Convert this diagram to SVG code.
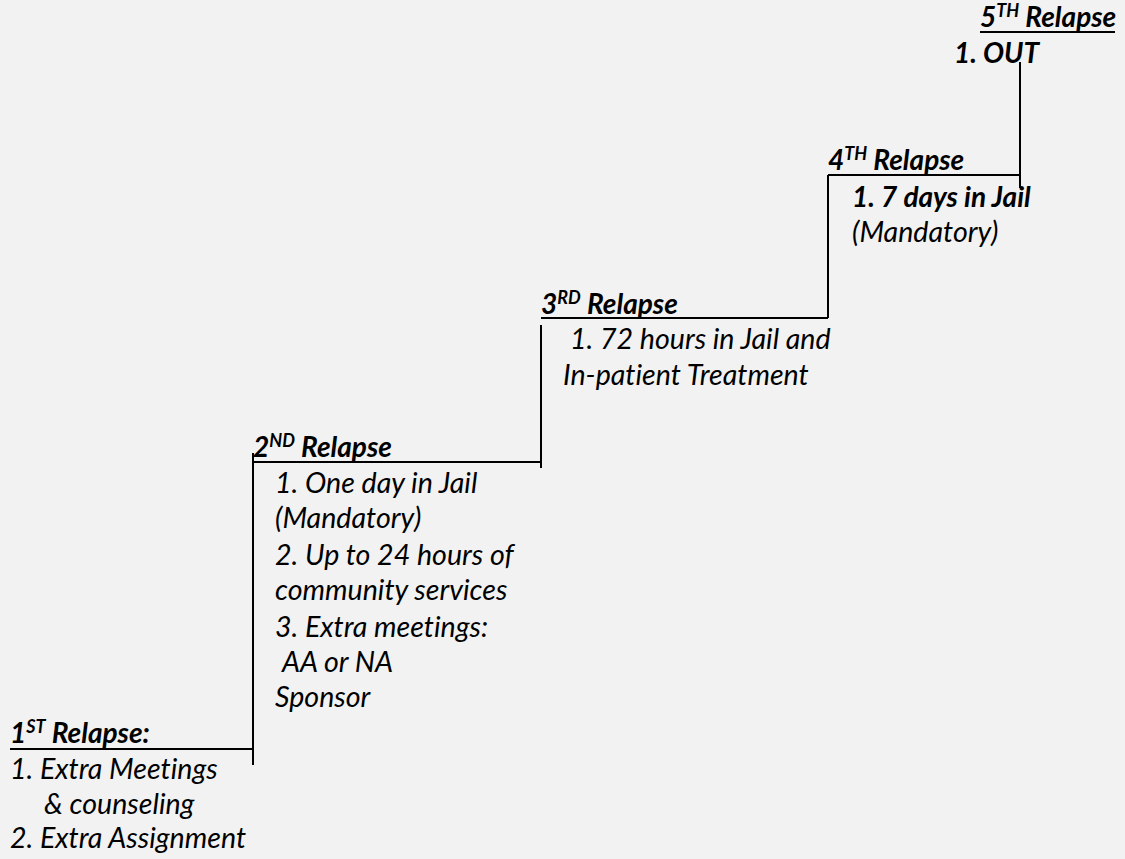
<svg xmlns="http://www.w3.org/2000/svg" width="1125" height="859" viewBox="0 0 1125 859">
<style>
text{font-family:Lato,"Open Sans","Liberation Sans",sans-serif;font-style:italic;font-size:28.6px;fill:#000;font-variant-ligatures:none}
.h,.b{font-weight:bold;font-size:28px}
.sup{font-size:18px}
.ln{stroke:#000;stroke-width:2;fill:none}
</style>
<rect width="1125" height="859" fill="#f2f2f2"/>
<g id="connectors">
<path class="ln" d="M10 749H253M253 453V765"/>
<path class="ln" d="M253 462H541M541 325V468"/>
<path class="ln" d="M541 318H828M828 175V318"/>
<path class="ln" d="M828 175H1020M1020 62V188"/>
<path class="ln" d="M980 32H1115"/>
</g>
<g id="relapse1">
<text class="h" x="10" y="743">1<tspan class="sup" dy="-10">ST</tspan><tspan dy="10"> Relapse:</tspan></text>
<text x="10" y="779">1. Extra Meetings</text>
<text x="44" y="814">&amp; counseling</text>
<text x="10" y="848">2. Extra Assignment</text>
</g>
<g id="relapse2">
<text class="h" x="253" y="457">2<tspan class="sup" dy="-10">ND</tspan><tspan dy="10"> Relapse</tspan></text>
<text x="275" y="493">1. One day in Jail</text>
<text x="275" y="528">(Mandatory)</text>
<text x="275" y="565">2. Up to 24 hours of</text>
<text x="275" y="600">community services</text>
<text x="275" y="637">3. Extra meetings:</text>
<text x="282" y="672">AA or NA</text>
<text x="275" y="707">Sponsor</text>
</g>
<g id="relapse3">
<text class="h" x="541" y="314">3<tspan class="sup" dy="-10">RD</tspan><tspan dy="10"> Relapse</tspan></text>
<text x="570" y="349">1. 72 hours in Jail and</text>
<text x="563" y="385">In-patient Treatment</text>
</g>
<g id="relapse4">
<text class="h" x="828" y="170">4<tspan class="sup" dy="-10">TH</tspan><tspan dy="10"> Relapse</tspan></text>
<text class="b" x="852" y="207">1. 7 days in Jail</text>
<text x="852" y="242">(Mandatory)</text>
</g>
<g id="relapse5">
<text class="h" x="980" y="27">5<tspan class="sup" dy="-10">TH</tspan><tspan dy="10"> Relapse</tspan></text>
<text class="b" x="954" y="63">1. OUT</text>
</g>
</svg>
